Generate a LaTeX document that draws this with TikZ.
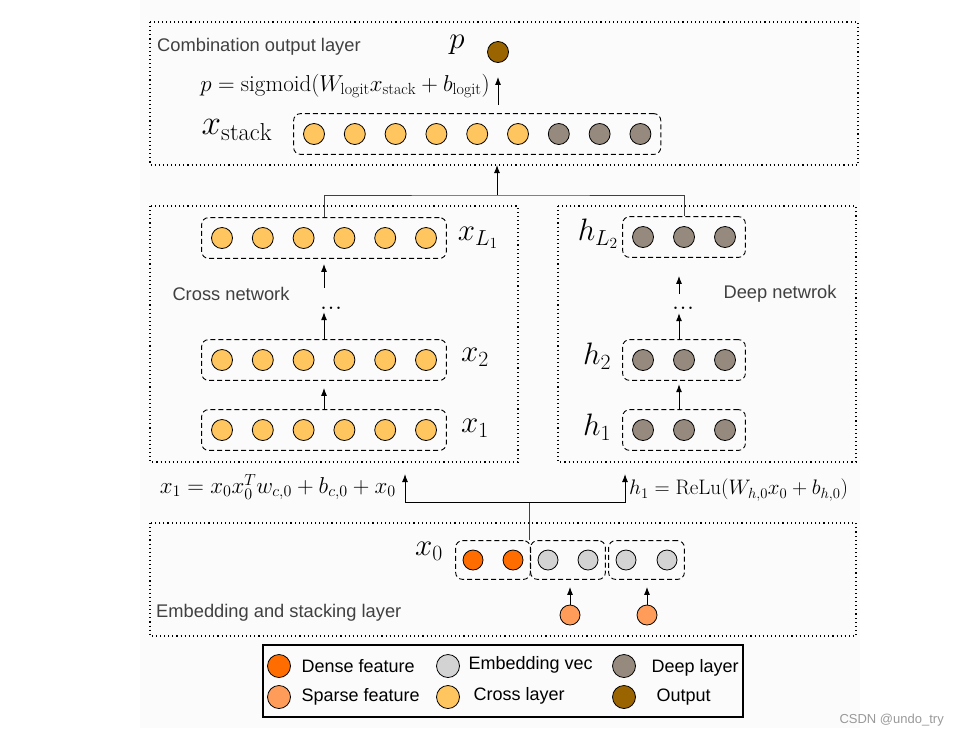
\RequirePackage{fix-cm}
\documentclass[tikz,border=0pt]{standalone}
\usepackage{fontspec}
\setsansfont{Liberation Sans}
\usetikzlibrary{positioning,fit,arrows.meta}

\definecolor{densec}{HTML}{FF6D00}
\definecolor{sparsec}{HTML}{FF9C5A}
\definecolor{embc}{HTML}{D3D3D3}
\definecolor{crossc}{HTML}{FFC55E}
\definecolor{deepc}{HTML}{968A7E}
\definecolor{outc}{HTML}{9A6400}
\definecolor{labelc}{HTML}{404040}
\definecolor{bgc}{HTML}{FBFBFB}

\tikzset{
  unit/.style={circle,draw,line width=0.8pt,minimum size=21pt,inner sep=0pt},
  denseu/.style={unit,fill=densec,minimum size=20pt},
  sparseu/.style={unit,fill=sparsec,minimum size=20pt},
  embu/.style={unit,fill=embc,minimum size=20pt},
  crossu/.style={unit,fill=crossc},
  deepu/.style={unit,fill=deepc},
  outu/.style={unit,fill=outc},
  group/.style={draw,line width=0.9pt,dash pattern=on 5pt off 3pt,rounded corners=7pt,inner sep=9.5pt},
  layer/.style={draw,line width=1.1pt,dash pattern=on 1.1pt off 3pt},
  up/.style={-{Latex[length=8pt,width=6pt]},line width=1pt},
  conn/.style={draw=black!75,line width=1pt},
  lbl/.style={font=\sffamily\fontsize{18.3}{19}\selectfont,text=labelc,inner sep=1pt},
  leg/.style={font=\sffamily\fontsize{18}{18}\selectfont,anchor=west},
  mlbl/.style={font=\fontsize{31}{31}\selectfont},
  fml/.style={font=\fontsize{23}{23}\selectfont,inner sep=1pt},
  dotsl/.style={font=\fontsize{30}{30}\selectfont,anchor=base},
}

\begin{document}
\begin{tikzpicture}[x=1pt,y=-1pt]
\useasboundingbox (0,0) rectangle (968,737);
\fill[bgc] (140,0) rectangle (860,728);

% layers
\draw[layer] (150,22) rectangle (858,165);
\draw[layer] (150,206) rectangle (518,462);
\draw[layer] (558,206) rectangle (856,462);
\draw[layer] (150,523) rectangle (856,636);
\node[lbl,anchor=west] (toplbl) at (156,47) {Combination output layer};
\node[lbl] (crosslbl) at (231,294) {Cross network};
\node[lbl] (deeplbl) at (780,294) {Deep netwrok};
\node[lbl,anchor=west] (emblbl) at (155,613) {Embedding and stacking layer};

% output
\node[outu] (pout) at (498,52) {};
\node[mlbl] (plbl) at (457,45) {$p$};
\draw[up] (pout.south) ++(0,42) -- ++(0,-28);
\node[fml,anchor=east] (pform) at (491,86) {$p=\mathrm{sigmoid}(W_{\mathrm{logit}}x_{\mathrm{stack}}+b_{\mathrm{logit}})$};

% stack
\foreach \i in {1,...,6} \node[crossu] (s\i) at ({273.2+40.8*\i},134) {};
\foreach \i in {7,...,9} \node[deepu] (s\i) at ({273.2+40.8*\i},134) {};
\node[group,fit=(s1)(s9)] (gstack) {};
\node[mlbl,font=\fontsize{35}{35}\selectfont] (stacklbl) at (237,130) {$x_{\mathrm{stack}}$};

% cross network
\foreach \r/\y in {L/238,b/360,a/430}{
  \foreach \i in {1,...,6} \node[crossu] (x\r\i) at ({181.2+40.8*\i},\y) {};
  \node[group,fit=(x\r1)(x\r6)] (gx\r) {};
}
\node[mlbl] (lxL) at (478,238) {$x_{L_1}$};
\node[mlbl] (lxb) at (475,357) {$x_2$};
\node[mlbl] (lxa) at (475,428) {$x_1$};
\node[dotsl] (xdots) at (331,309) {...};
\draw[up] (gxa.north) -- (gxb.south) [shorten >=7pt];
\draw[up] (gxb.north) -- ++(0,-27);
\draw[up] (gxL.south) ++(0,29) -- ++(0,-24);

% deep network
\foreach \r/\y in {L/237,b/360,a/430}{
  \foreach \i in {1,...,3} \node[deepu] (h\r\i) at ({602+41*\i},\y) {};
  \node[group,fit=(h\r1)(h\r3)] (gh\r) {};
}
\node[mlbl] (lhL) at (598,234) {$h_{L_2}$};
\node[mlbl] (lhb) at (597,356) {$h_2$};
\node[mlbl] (lha) at (597,427) {$h_1$};
\node[dotsl] (hdots) at (683,309) {...};
\draw[up] (gha.north) ++(-5,0) -- ++(0,-25);
\draw[up] (ghb.north) ++(-5,0) -- ++(0,-26);
\draw[up] (ghL.south) ++(-5,36) -- ++(0,-18);

% merge into stack
\coordinate (merge) at (497,195);
\coordinate (topin) at (497,165);
\draw[conn] (gxL.north) |- (merge) -| (ghL.north);
\draw[up] (merge) -- (topin);

% embedding and stacking
\node[denseu] (d1) at (473,560) {};
\node[denseu] (d2) at (513,560) {};
\node[embu] (e1) at (548,560) {};
\node[embu] (e2) at (588,560) {};
\node[embu] (e3) at (626,560) {};
\node[embu] (e4) at (667,560) {};
\node[group,fit=(d1)(d2),inner xsep=7pt,inner ysep=9pt] (gd) {};
\node[group,fit=(e1)(e2),inner xsep=7pt,inner ysep=9pt] (ge1) {};
\node[group,fit=(e3)(e4),inner xsep=7pt,inner ysep=9pt] (ge2) {};
\node[mlbl] (lx0) at (429,551) {$x_0$};
\node[sparseu] (sp1) at (570,615) {};
\node[sparseu] (sp2) at (647,615) {};
\draw[up,shorten >=7pt] (sp1.north) -- (sp1.north |- ge1.south);
\draw[up,shorten >=7pt] (sp2.north) -- (sp2.north |- ge2.south);

% split to both networks
\coordinate (split) at (529,502);
\coordinate (crossin) at (405,474);
\coordinate (deepin) at (625,474);
\draw[conn] (split) -- (split |- gd.north);
\draw[up] (split) -| (crossin);
\draw[up] (split) -| (deepin);
\node[fml,anchor=east] (crossf) at (397,487) {$x_1=x_0x_0^Tw_{c,0}+b_{c,0}+x_0$};
\node[fml,anchor=west,font=\fontsize{21}{21}\selectfont] (deepf) at (628,490) {$h_1=\mathrm{ReLu}(W_{h,0}x_0+b_{h,0})$};

% legend
\draw[line width=1.2pt] (263,645) rectangle (743,717);
\node[unit,fill=densec,minimum size=23pt] (l1) at (279,666) {};
\node[unit,fill=sparsec,minimum size=23pt] (l2) at (279,697) {};
\node[unit,fill=embc,minimum size=23pt] (l3) at (448,666) {};
\node[unit,fill=crossc,minimum size=23pt] (l4) at (448,697) {};
\node[unit,fill=deepc,minimum size=23pt] (l5) at (624,666) {};
\node[unit,fill=outc,minimum size=23pt] (l6) at (624,697) {};
\node[leg] at (298,666) {Dense feature};
\node[leg] at (298,697) {Sparse feature};
\node[leg] at (465,665) {Embedding vec};
\node[leg] at (470,696) {Cross layer};
\node[leg] at (648,668) {Deep layer};
\node[leg] at (653,697) {Output};

\node[font=\sffamily\fontsize{13}{13}\selectfont,text=black!40,anchor=west] (mark) at (836,720) {CSDN @undo\_try};
\end{tikzpicture}
\end{document}
